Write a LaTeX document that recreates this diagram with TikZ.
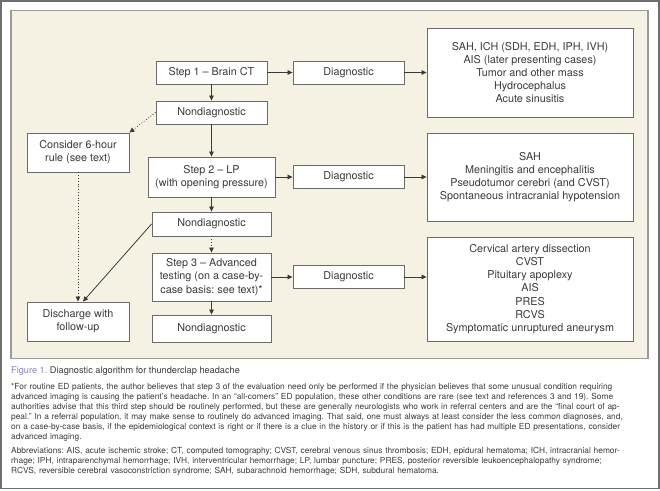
\documentclass[tikz,border=0pt]{standalone}
\usepackage{fontspec}
\setmainfont{TeX Gyre Heros}
\usetikzlibrary{arrows.meta, positioning}

\definecolor{panelbg}{HTML}{F6F2E3}
\definecolor{panelline}{HTML}{9C9A92}
\definecolor{frameline}{HTML}{6E6E6E}
\definecolor{boxline}{HTML}{6A6A6A}
\definecolor{txtgray}{HTML}{3A3A3A}
\definecolor{figpurple}{HTML}{8A7DB8}

\begin{document}
\frenchspacing
\begin{tikzpicture}[
    x=1pt, y=-1pt,
    % Define box styles
    stepbox/.style={
        rectangle,
        draw=boxline,
        line width=0.9pt,
        fill=white,
        align=center,
        text=txtgray,
        inner sep=1pt,
        font=\fontsize{10.8}{13.2}\selectfont
    },
    arr/.style={-{Triangle[length=5pt,width=4.6pt]}, line width=0.8pt, draw=txtgray},
    dotarr/.style={arr, dotted}
]
    \useasboundingbox (0,0) rectangle (660,490);

    % =================================================================
    % --- Frame and panel ---
    % =================================================================
    \draw[frameline, line width=1.6pt] (1,1) rectangle (659,488.5);
    \draw[panelline, fill=panelbg, line width=1.4pt] (11,10.5) rectangle (648,358.5);

    % =================================================================
    % --- Middle column: steps ---
    % =================================================================
    \node[stepbox, minimum width=111, minimum height=23] (ct_box) at (211.5,72.5) {Step 1 – Brain CT};
    \node[stepbox, minimum width=111, minimum height=23] (nd1_box) at (211.5,112.5) {Nondiagnostic};
    \node[stepbox, minimum width=127, minimum height=40] (lp_box) at (211.5,177) {Step 2 – LP\\(with opening pressure)};
    \node[stepbox, minimum width=119, minimum height=24] (nd2_box) at (211.5,224) {Nondiagnostic};
    \node[stepbox, minimum width=119, minimum height=48] (adv_box) at (211.5,277) {Step 3 – Advanced\\testing (on a case-by-\\case basis: see text)*};
    \node[stepbox, minimum width=119, minimum height=27] (nd3_box) at (211.5,328.5) {Nondiagnostic};

    % --- Left column ---
    \node[stepbox, minimum width=102, minimum height=39] (rule_box) at (78,152.5) {Consider 6-hour\\rule (see text)};
    \node[stepbox, minimum width=102, minimum height=39] (discharge_box) at (78,321.5) {Discharge with\\follow-up};

    % --- Diagnostic boxes ---
    \node[stepbox, minimum width=111, minimum height=23] (diag1_box) at (348.5,72.5) {Diagnostic};
    \node[stepbox, minimum width=111, minimum height=23] (diag2_box) at (348.5,177) {Diagnostic};
    \node[stepbox, minimum width=111, minimum height=23] (diag3_box) at (348.5,277) {Diagnostic};

    % --- Right column: diagnoses ---
    \node[stepbox, minimum width=206, minimum height=89] (res1_box) at (530,72.5) {SAH, ICH (SDH, EDH, IPH, IVH)\\AIS (later presenting cases)\\Tumor and other mass\\Hydrocephalus\\Acute sinusitis};
    \node[stepbox, minimum width=206, minimum height=88] (res2_box) at (530,177) {SAH\\Meningitis and encephalitis\\Pseudotumor cerebri (and CVST)\\Spontaneous intracranial hypotension};
    \node[stepbox, minimum width=206, minimum height=104] (res3_box) at (530,289) {Cervical artery dissection\\CVST\\Pituitary apoplexy\\AIS\\PRES\\RCVS\\Symptomatic unruptured aneurysm};

    % =================================================================
    % --- Connectors ---
    % =================================================================
    \draw[arr] (ct_box.east) -- (diag1_box.west);
    \draw[arr] (diag1_box.east) -- (res1_box.west);
    \draw[arr] (ct_box.south) -- (nd1_box.north);
    \draw[dotarr] (nd1_box.west) -- (rule_box.north east);
    \draw[arr] (nd1_box.south) -- (lp_box.north);
    \draw[arr] (lp_box.east) -- (diag2_box.west);
    \draw[arr] (diag2_box.east) -- (res2_box.west);
    \draw[arr] (lp_box.south) -- (nd2_box.north);
    \draw[dotarr] (nd2_box.south) -- (adv_box.north);
    \draw[arr] (adv_box.east) -- (diag3_box.west);
    \draw[arr] (diag3_box.east) -- (diag3_box.east -| res3_box.west);
    \draw[arr] (adv_box.south) -- (nd3_box.north);
    \draw[arr] (nd2_box.west) -- ([xshift=5pt]discharge_box.north);
    \draw[dotarr] (rule_box.south) -- (discharge_box.north);

    % =================================================================
    % --- Caption and notes ---
    % =================================================================
    \node[anchor=west, inner sep=0pt, text=txtgray, font=\fontsize{9.2}{11}\selectfont] (fig_caption) at (11,371)
        {\textcolor{figpurple}{Figure 1.} Diagnostic algorithm for thunderclap headache};
    \node[anchor=north west, inner sep=0pt, align=left, text width=660, text=txtgray, font=\fontsize{8.35}{10}\selectfont] (fig_notes) at (11,383)
        {*For routine ED patients, the author believes that step 3 of the evaluation need only be performed if the physician believes that some unusual condition requiring\\%
        advanced imaging is causing the patient’s headache. In an “all-comers” ED population, these other conditions are rare (see text and references 3 and 19). Some\\%
        authorities advise that this third step should be routinely performed, but these are generally neurologists who work in referral centers and are the “final court of ap-\\%
        peal.” In a referral population, it may make sense to routinely do advanced imaging. That said, one must always at least consider the less common diagnoses, and,\\%
        on a case-by-case basis, if the epidemiological context is right or if there is a clue in the history or if this is the patient has had multiple ED presentations, consider\\%
        advanced imaging.\\[4.5pt]%
        Abbreviations: AIS, acute ischemic stroke; CT, computed tomography; CVST, cerebral venous sinus thrombosis; EDH, epidural hematoma; ICH, intracranial hemor-\\%
        rhage; IPH, intraparenchymal hemorrhage; IVH, interventricular hemorrhage; LP, lumbar puncture; PRES, posterior reversible leukoencephalopathy syndrome;\\%
        RCVS, reversible cerebral vasoconstriction syndrome; SAH, subarachnoid hemorrhage; SDH, subdural hematoma.};
\end{tikzpicture}
\end{document}
